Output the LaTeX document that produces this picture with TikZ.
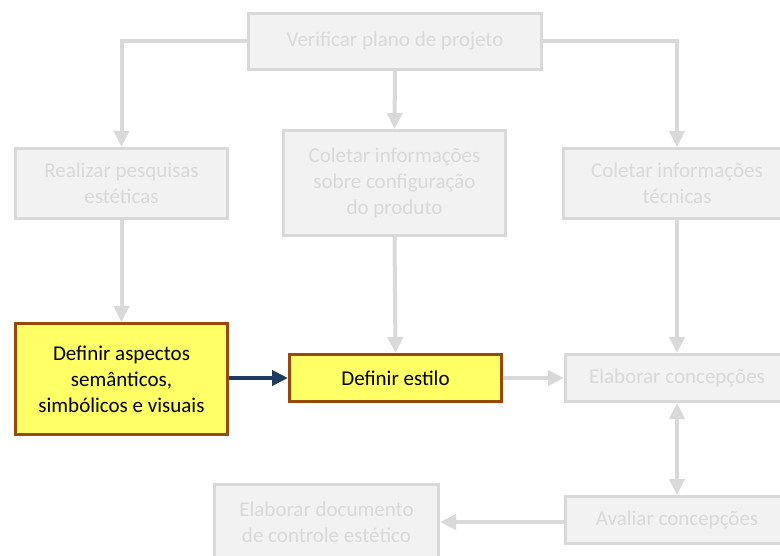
\documentclass[tikz,border=0pt]{standalone}
\usepackage{fontspec}
\setmainfont{Carlito}
\usepackage{tikz}
\usetikzlibrary{arrows.meta}
\usetikzlibrary{positioning}
\definecolor{boxgray}{HTML}{F2F2F2}
\definecolor{linegray}{HTML}{D9D9D9}
\definecolor{textgray}{HTML}{D9D9D9}
\definecolor{hiyellow}{HTML}{FFFF66}
\definecolor{hibrown}{HTML}{984807}
\definecolor{navy}{HTML}{1F3A60}
\tikzset{greybox/.style = {draw = linegray, fill = boxgray, line width = 3pt,
                           text = textgray, align = center, inner sep = 0,
                           font = \fontsize{21}{26}\selectfont}}
\tikzset{hibox/.style = {draw = hibrown, fill = hiyellow, line width = 3pt,
                         text = black, align = center, inner sep = 0,
                         font = \fontsize{21}{26}\selectfont}}
\tikzset{flow/.style = {draw = linegray, line width = 4pt,
                        -{Triangle[width = 15pt, length = 16pt]}}}
\tikzset{flowboth/.style = {draw = linegray, line width = 4pt,
                            {Triangle[width = 15pt, length = 16pt]}-{Triangle[width = 15pt, length = 16pt]}}}
\tikzset{mainflow/.style = {draw = navy, line width = 4pt,
                            -{Triangle[width = 15pt, length = 16pt]}}}

\begin{document}
\begin{tikzpicture}[x = 1pt, y = -1pt]
      \useasboundingbox (0, 0) rectangle (780, 556);

      \node [greybox, minimum width = 293, minimum height = 56] (verif) at (395, 41.5) {Verificar plano de projeto};
      \node [greybox, minimum width = 212, minimum height = 70] (pesq) at (121.5, 183.5) {Realizar pesquisas\\est\'eticas};
      \node [greybox, minimum width = 222, minimum height = 105] (config) at (394.5, 183) {Coletar informa\c{c}\~oes\\sobre configura\c{c}\~ao\\do produto};
      \node [greybox, minimum width = 227, minimum height = 70] (tecn) at (677, 183.5) {Coletar informa\c{c}\~oes\\t\'ecnicas};
      \node [hibox, minimum width = 212, minimum height = 111] (aspec) at (121.5, 379) {Definir aspectos\\sem\^anticos,\\simb\'olicos e visuais};
      \node [hibox, minimum width = 212, minimum height = 47] (estilo) at (395.5, 378) {Definir estilo};
      \node [greybox, minimum width = 223, minimum height = 47] (conc) at (677, 378) {Elaborar concep\c{c}\~oes};
      \node [greybox, minimum width = 223, minimum height = 47] (aval) at (677, 520) {Avaliar concep\c{c}\~oes};
      \node [greybox, minimum width = 224, minimum height = 75] (doc) at (326.5, 522) {Elaborar documento\\de controle est\'etico};

      \draw [flow] (verif.west) -| (pesq.north);
      \draw [flow] (verif.south) -- (config.north);
      \draw [flow] (verif.east) -| (tecn.north);
      \draw [flow] (pesq.south) -- (aspec.north);
      \draw [flow] (config.south) -- (estilo.north);
      \draw [flow] (tecn.south) -- (conc.north);
      \draw [mainflow] (aspec.east |- estilo.west) -- (estilo.west);
      \draw [flow] (estilo.east) -- (conc.west);
      \draw [flowboth] (conc.south) -- (aval.north);
      \draw [flow] (aval.west |- doc.east) -- (doc.east);
    \end{tikzpicture}
\end{document}
